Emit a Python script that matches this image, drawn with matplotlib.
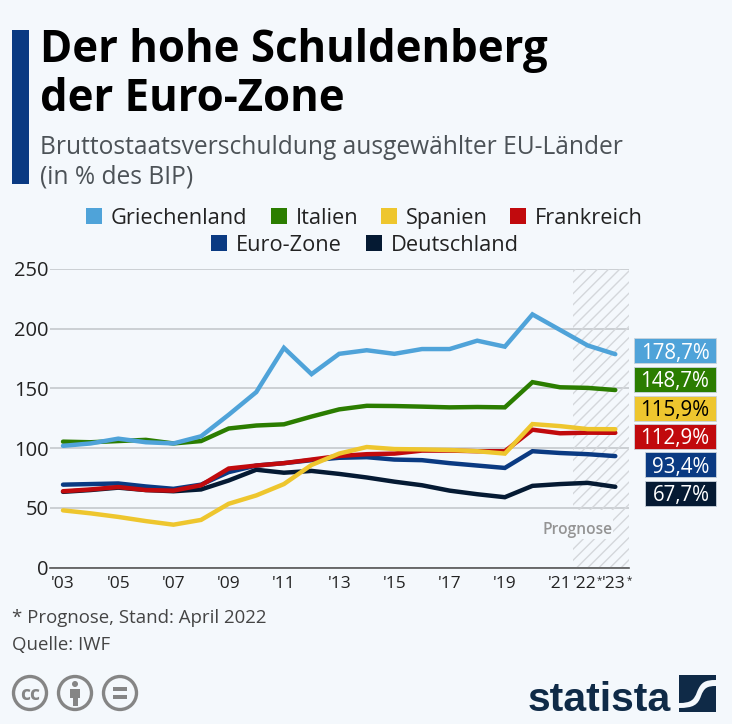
import matplotlib
matplotlib.use("Agg")
import matplotlib.pyplot as plt
from matplotlib.patches import Rectangle, Circle, PathPatch
from matplotlib.path import Path
from matplotlib.transforms import ScaledTranslation

years = list(range(2003, 2024))
tick_years = [2003, 2005, 2007, 2009, 2011, 2013, 2015, 2017, 2019, 2021, 2022, 2023]
tick_labels = ["'03", "'05", "'07", "'09", "'11", "'13", "'15", "'17", "'19", "'21", "'22", "'23"]
forecast_years = [2022, 2023]

griechenland = [102, 104, 108, 105, 104, 110, 128, 147, 184, 162, 179, 182, 179, 183, 183, 190, 185, 212, 199, 186, 178.7]
italien = [105.5, 105, 106, 107, 104, 106, 116.5, 119, 120, 126.5, 132.5, 135.5, 135.3, 134.8, 134.2, 134.5, 134.2, 155.3, 151, 150.5, 148.7]
spanien = [48, 45.5, 42.5, 39, 36, 40, 53.5, 60.5, 70, 86, 95.5, 101, 99.3, 99, 98.5, 97.5, 95.5, 120.2, 118.5, 116, 115.9]
frankreich = [64, 65.5, 67.5, 65, 64.5, 69, 83, 85.5, 87.5, 90.5, 93.5, 95, 95.5, 98, 98, 97.5, 97.5, 115.5, 112.5, 113, 112.9]
eurozone = [69.5, 70, 70.5, 68, 66, 69.5, 80, 85.5, 87.5, 90, 92, 92.5, 90.5, 90, 87.5, 85.5, 83.5, 97.5, 96, 95, 93.4]
deutschland = [63.5, 65, 67, 65, 64, 65.5, 73, 82, 79.5, 81, 78.5, 75.5, 72, 69, 64.5, 61.5, 59, 68.5, 70, 71, 67.7]

BG = "#f4f8fc"
BLUE = "#4fa3d9"
GREEN = "#2b7d00"
YELLOW = "#eec62e"
RED = "#c10a0d"
NAVY = "#0a3a82"
DARK = "#051a33"

W, H = 732, 724
FONT = ["Open Sans", "DejaVu Sans"]
plt.rcParams["font.family"] = FONT
plt.rcParams["hatch.linewidth"] = 1.0
plt.rcParams["hatch.color"] = "#d4d7db"

fig = plt.figure(figsize=(W / 100, H / 100), dpi=100, facecolor=BG)

# chart area in pixels: left 50, right 628.7, y=0 at 567.7, y=250 at 269
ax = fig.add_axes([50 / W, 1 - 567.7 / H, 578.7 / W, 298.7 / H], facecolor="none")
ax.set_ylim(0, 250)
x_per_px = 20 / (615.3 - 63)
y_per_px = 250 / 298.7
ax.set_xlim(2003 - 13 * x_per_px, 2003 + (628.7 - 63) * x_per_px)


def px_x(p):
    return 2003 + (p - 63) * x_per_px


def px_y(p):
    return (567.7 - p) * y_per_px


# forecast band, with a gap behind its label
ax.add_patch(Rectangle((px_x(573), 0), px_x(628.7) - px_x(573), 250,
                       facecolor="none", edgecolor="#d4d7db", hatch="///", linewidth=0, zorder=1))
ax.add_patch(Rectangle((px_x(540), px_y(539)), px_x(613) - px_x(540), px_y(510) - px_y(539),
                       facecolor=BG, edgecolor="none", zorder=1.5))
ax.text(px_x(577.5), px_y(528), "Prognose", fontsize=11.2, fontweight="semibold", color="#949494",
        ha="center", va="center_baseline", zorder=2)

ax.set_yticks([0, 50, 100, 150, 200, 250])
ax.grid(axis="y", color="#c8ccd0", linewidth=1.3, zorder=0)
ax.set_axisbelow(True)
for s in ["top", "right", "left"]:
    ax.spines[s].set_visible(False)
ax.spines["bottom"].set_color("#555555")
ax.spines["bottom"].set_linewidth(1.2)
ax.set_xticks(tick_years)
ax.set_xticklabels(tick_labels)
ax.tick_params(axis="x", length=0, labelsize=12.5, pad=6, colors="#222222")
ax.tick_params(axis="y", length=0, labelsize=14.5, pad=1, colors="#222222")

# forecast labels sit a bit left and carry a small star
label_shifts = [-3.2, -1.2]
star_offsets = [8.6, 10.8]
for lab, dx in zip(ax.get_xticklabels()[-2:], label_shifts):
    lab.set_transform(lab.get_transform() + ScaledTranslation(dx / 100, 0, fig.dpi_scale_trans))
for yr, dx in zip(forecast_years, star_offsets):
    ax.annotate("*", xy=(yr, 0), xycoords=("data", "axes fraction"), xytext=(dx, -13), textcoords="offset pixels",
                fontsize=7, color="#222222", ha="left", va="center")

series = [
    (deutschland, DARK), (eurozone, NAVY), (frankreich, RED),
    (italien, GREEN), (spanien, YELLOW), (griechenland, BLUE),
]
for vals, col in series:
    ax.plot(years, vals, color=col, linewidth=3.2, solid_capstyle="round", solid_joinstyle="miter", zorder=3)

# overlay in pixel coordinates for title, legend, value tags, footer
ov = fig.add_axes([0, 0, 1, 1], facecolor="none")
ov.set_xlim(0, W)
ov.set_ylim(H, 0)
ov.axis("off")

ov.add_patch(Rectangle((12, 30), 17, 154, facecolor=NAVY, edgecolor="none"))
ov.text(40, 62, "Der hohe Schuldenberg", fontsize=31.5, fontweight="bold", color="black", va="baseline")
ov.text(40, 111, "der Euro-Zone", fontsize=31.5, fontweight="bold", color="black", va="baseline")
ov.text(40, 145, "Bruttostaatsverschuldung ausgewählter EU-Länder", fontsize=17.65, color="#4c5257", va="center_baseline")
ov.text(40, 174, "(in % des BIP)", fontsize=17.65, color="#4c5257", va="center_baseline")

legend_items = [
    ("Griechenland", BLUE, 86, 216), ("Italien", GREEN, 271, 216), ("Spanien", YELLOW, 381, 216),
    ("Frankreich", RED, 510, 216), ("Euro-Zone", NAVY, 211, 243), ("Deutschland", DARK, 366, 243),
]
for name, col, px, py in legend_items:
    ov.add_patch(Rectangle((px, py - 8), 16, 16, facecolor=col, edgecolor="none"))
    ov.text(px + 25, py, name, fontsize=15.7, color="#222222", va="center_baseline")

tags = [
    ("178,7%", BLUE, "white", 634.3, 350.8), ("148,7%", GREEN, "white", 634.3, 379.3), ("115,9%", YELLOW, "black", 634.3, 408),
    ("112,9%", RED, "white", 634.3, 436.3), ("93,4%", NAVY, "white", 645.3, 464.8), ("67,7%", DARK, "white", 645.3, 493.3),
]
for label, bg, fg, px, py in tags:
    ov.add_patch(Rectangle((px, py - 12.5), 716 - px, 25, facecolor=bg, edgecolor="#c9d3dc", linewidth=0.6))
    ov.text(709.5, py, label, fontsize=14.8, color=fg, ha="right", va="center_baseline")

ov.text(12, 616, "* Prognose, Stand: April 2022", fontsize=13.4, color="#444444", va="center_baseline")
ov.text(12, 643, "Quelle: IWF", fontsize=13.4, color="#444444", va="center_baseline")

# licence icons
GREY = "#858585"
for cx in (30, 75, 120):
    ov.add_patch(Circle((cx, 693), 16.5, facecolor="none", edgecolor=GREY, linewidth=2.4))
ov.text(30, 693, "cc", fontsize=14, fontweight="bold", color=GREY, ha="center", va="center_baseline")
ov.add_patch(Circle((75, 684), 3, facecolor=GREY, edgecolor="none"))
ov.add_patch(Rectangle((70, 688.5), 10, 9.5, facecolor=GREY, edgecolor="none"))
ov.add_patch(Rectangle((72.5, 697), 5, 9, facecolor=GREY, edgecolor="none"))
ov.add_patch(Rectangle((113, 686.5), 14, 4, facecolor=GREY, edgecolor="none"))
ov.add_patch(Rectangle((113, 695), 14, 4, facecolor=GREY, edgecolor="none"))

# statista logo
LOGO = "#0f2a47"
ov.text(671, 696, "statista", fontsize=29.5, fontweight="bold", family=["Liberation Sans Narrow", "Liberation Sans"],
        color=LOGO, ha="right", va="center_baseline")
ov.add_patch(Rectangle((679, 675), 37, 37, facecolor=LOGO, edgecolor="none"))
curve = Path(
    [(716, 680), (705, 680), (701, 682), (697, 692), (694, 700), (691, 703), (679, 703),
     (679, 708), (693, 708), (698, 705), (701, 696), (704, 688), (707, 686), (716, 686), (716, 680)],
    [Path.MOVETO, Path.CURVE4, Path.CURVE4, Path.CURVE4, Path.CURVE4, Path.CURVE4, Path.CURVE4,
     Path.LINETO, Path.CURVE4, Path.CURVE4, Path.CURVE4, Path.CURVE4, Path.CURVE4, Path.CURVE4, Path.CLOSEPOLY],
)
ov.add_patch(PathPatch(curve, facecolor=BG, edgecolor="none"))

fig.savefig("out.png", dpi=100, facecolor=BG)
